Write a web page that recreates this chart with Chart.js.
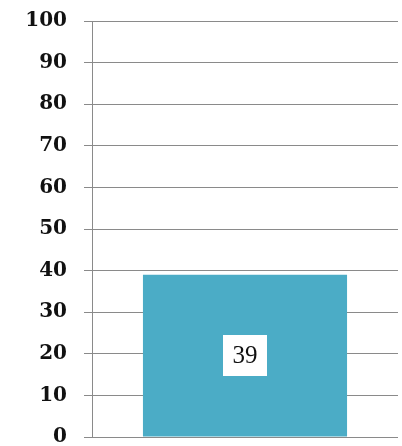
<!DOCTYPE html>
<html>
<head>
<meta charset="utf-8">
<script src="https://cdn.jsdelivr.net/npm/chart.js@4/dist/chart.umd.min.js"></script>
<style>
html,body{margin:0;padding:0;background:#fff;}
#wrap{width:402px;height:446px;position:relative;}
</style>
</head>
<body>
<div id="wrap"><canvas id="c" width="402" height="446"></canvas></div>
<script>
const categories = [''];
const values = [39];
const yTicks = [0,10,20,30,40,50,60,70,80,90,100];

const labelBox = {
  id: 'labelBox',
  afterDatasetsDraw(chart) {
    const ctx = chart.ctx;
    const meta = chart.getDatasetMeta(0);
    meta.data.forEach((bar, i) => {
      const cx = bar.x;
      const cy = (bar.y + bar.base) / 2;
      const w = 44, h = 41;
      ctx.save();
      ctx.fillStyle = '#ffffff';
      ctx.fillRect(Math.round(cx - w / 2), Math.round(cy - h / 2), w, h);
      ctx.fillStyle = '#111';
      ctx.font = '25px "Liberation Serif", serif';
      ctx.textAlign = 'center';
      ctx.textBaseline = 'middle';
      ctx.fillText(String(values[i]), cx, cy + 1);
      ctx.restore();
    });
  }
};

new Chart(document.getElementById('c'), {
  type: 'bar',
  data: {
    labels: categories,
    datasets: [{
      data: values,
      backgroundColor: '#4BACC6',
      borderWidth: 0,
      barPercentage: 1,
      categoryPercentage: 0.667
    }]
  },
  options: {
    responsive: false,
    animation: false,
    devicePixelRatio: 1,
    layout: { padding: { top: 21, right: 4, bottom: 9, left: 0 } },
    plugins: { legend: { display: false }, tooltip: { enabled: false } },
    scales: {
      x: { display: false },
      y: {
        min: 0, max: 100,
        afterFit(scale) { scale.width = 92; scale.paddingTop = 0; scale.paddingBottom = 0; },
        afterBuildTicks(scale) { scale.ticks = yTicks.map(v => ({ value: v })); },
        border: { display: true, color: '#8a8a8a', width: 1 },
        grid: { color: '#8a8a8a', lineWidth: 1, tickLength: 8, drawTicks: true },
        ticks: {
          padding: 17,
          color: '#111',
          font: { family: '"DejaVu Serif", serif', size: 20, weight: 'bold' }
        }
      }
    }
  },
  plugins: [labelBox]
});
</script>
</body>
</html>
